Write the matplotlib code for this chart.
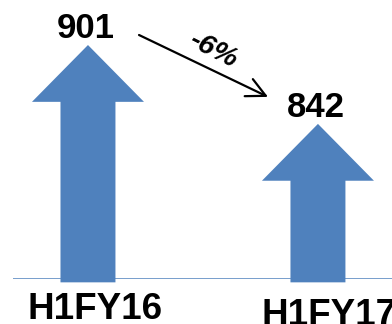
import matplotlib.pyplot as plt

categories = ['H1FY16', 'H1FY17']
values = [901, 842]
change_label = '-6%'

blue = '#4f81bd'
base = 726  # value where the arrows start (baseline)

plt.rcParams['font.family'] = ['Liberation Sans', 'DejaVu Sans']

fig = plt.figure(figsize=(3.92, 3.24), dpi=100)
# axes: left edge at the start of the baseline, bottom on the baseline
ax = fig.add_axes([13 / 392, 45 / 324, 379 / 392, 279 / 324])
ax.set_xlim(-0.326, 1.322)
ax.set_ylim(base, base + 279 / 1.337)
ax.axis('off')

ax.axhline(base, color=blue, lw=1.8, zorder=1)

head_len = 42.5
for i, v in enumerate(values):
    ax.arrow(i, base - 2.5, 0, v - base + 2.5, width=0.239, head_width=0.487,
             head_length=head_len, length_includes_head=True,
             color=blue, lw=0, zorder=2, clip_on=False)
    ax.annotate(str(v), xy=(i, v), xytext=(-1.5, 5), textcoords='offset points',
                ha='center', va='baseline', fontsize=25, fontweight='bold')

# category labels under the baseline
label_offsets = [(5, -29), (8, -33)]
for i, (name, off) in enumerate(zip(categories, label_offsets)):
    ax.annotate(name, xy=(i, base), xytext=off, textcoords='offset points',
                ha='center', va='baseline', fontsize=26.5, fontweight='bold',
                annotation_clip=False)

# change arrow between the two values
ax.annotate('', xy=(0.783, values[1] + 20.2), xytext=(0.222, values[0] + 7.5),
            arrowprops=dict(arrowstyle='->', lw=1.6, color='black',
                            mutation_scale=34, shrinkA=0, shrinkB=0))
ax.text(0.545, values[0] - 4, change_label, rotation=-27, ha='center', va='center',
        fontsize=20.5, fontweight='bold', fontstyle='italic', rotation_mode='anchor')

fig.savefig('out.png', dpi=100)
